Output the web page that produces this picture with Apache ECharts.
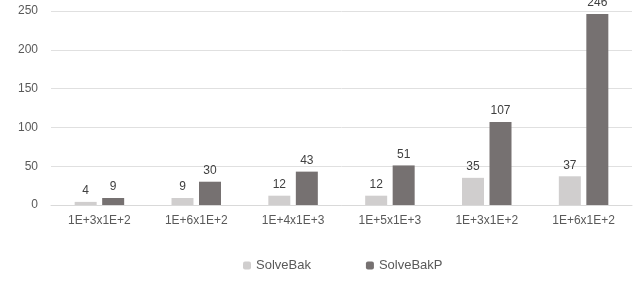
<!DOCTYPE html>
<html><head><meta charset="utf-8">
<script src="https://cdn.jsdelivr.net/npm/echarts@6/dist/echarts.min.js"></script>
<style>html,body{margin:0;padding:0;background:#fff}#c{width:640px;height:283px}</style>
</head><body><div id="c"></div>
<script>
const categories = ['1E+3x1E+2','1E+6x1E+2','1E+4x1E+3','1E+5x1E+3','1E+3x1E+2','1E+6x1E+2'];
const solveBak = [4, 9, 12, 12, 35, 37];
const solveBakP = [9, 30, 43, 51, 107, 246];
const yTicks = {min: 0, max: 250, interval: 50};
const font = 'Liberation Sans, Arial, sans-serif';
const chart = echarts.init(document.getElementById('c'));
const lbl = {show: true, position: 'top', color: '#404040', fontSize: 12, fontFamily: font, distance: 5};
chart.setOption({
  animation: false,
  grid: {left: 51, right: 8, top: 11, bottom: 78},
  legend: {top: 254, left: 238, itemWidth: 8, itemHeight: 8, itemGap: 55,
    textStyle: {color: '#595959', fontSize: 13, fontFamily: font},
    data: ['SolveBak', 'SolveBakP']},
  xAxis: {type: 'category', data: categories,
    axisLine: {lineStyle: {color: '#d9d9d9'}}, axisTick: {show: false},
    axisLabel: {color: '#595959', fontSize: 12, fontFamily: font, margin: 10}},
  yAxis: {type: 'value', min: yTicks.min, max: yTicks.max, interval: yTicks.interval,
    axisLine: {show: false}, axisTick: {show: false},
    axisLabel: {color: '#595959', fontSize: 12, fontFamily: font, margin: 13},
    splitLine: {lineStyle: {color: '#e0e0e0'}}},
  series: [
    {name: 'SolveBak', type: 'bar', data: solveBak, barWidth: 22, barGap: '25%',
     itemStyle: {color: '#d0cece'}, label: lbl},
    {name: 'SolveBakP', type: 'bar', data: solveBakP, barWidth: 22,
     itemStyle: {color: '#767171'}, label: lbl}
  ]
});
</script></body></html>
